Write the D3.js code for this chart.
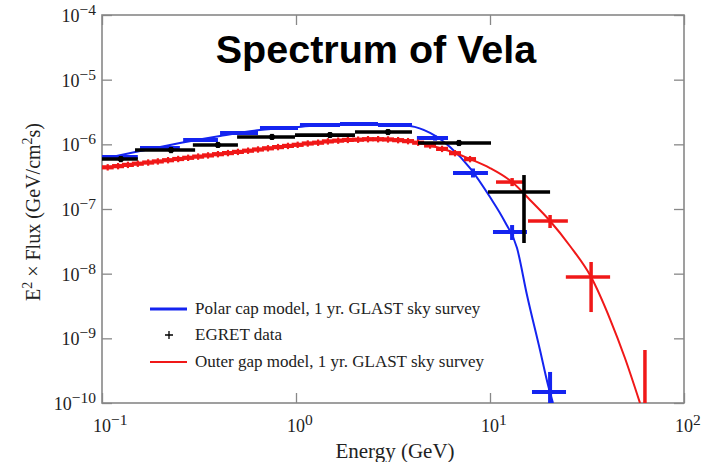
<!DOCTYPE html>
<html>
<head>
<meta charset="utf-8">
<script src="https://cdn.jsdelivr.net/npm/d3@7"></script>
<style>
  body { margin: 0; background: #fff; }
  svg { display: block; }
</style>
</head>
<body>
<svg id="chart" width="708" height="462"></svg>
<script>
// ---- axis ticks ----
const xTickValues = [0.1, 1, 10, 100];
const xTickExponents = ["-1", "0", "1", "2"];
const yTickValues = [1e-4, 1e-5, 1e-6, 1e-7, 1e-8, 1e-9, 1e-10];
const yTickExponents = ["-4", "-5", "-6", "-7", "-8", "-9", "-10"];

// ---- polar cap model curve: [energy GeV, E^2 x flux] ----
const polarCapCurve = [
  [0.1, 5.93e-7], [0.157, 7.88e-7], [0.252, 1.05e-6], [0.406, 1.35e-6],
  [0.652, 1.67e-6], [1.0, 1.85e-6], [1.69, 2.06e-6], [2.71, 2.06e-6],
  [3.87, 1.92e-6], [4.91, 1.50e-6], [6.22, 9.09e-7], [7.89, 4.30e-7],
  [10.0, 1.53e-7], [11.95, 6.29e-8], [13.78, 2.49e-8], [15.51, 4.68e-9],
  [18.1, 6.60e-10], [19.91, 1.90e-10], [21.12, 1.0e-10]
];

// ---- polar cap simulated survey bins ----
const polarCapBins = [
  { e: 0.124, eLo: 0.1,   eHi: 0.153, f: 6.37e-7, fLo: 6.37e-7, fHi: 6.37e-7 },
  { e: 0.199, eLo: 0.157, eHi: 0.252, f: 8.77e-7, fLo: 8.77e-7, fHi: 8.77e-7 },
  { e: 0.322, eLo: 0.262, eHi: 0.396, f: 1.17e-6, fLo: 1.17e-6, fHi: 1.17e-6 },
  { e: 0.508, eLo: 0.406, eHi: 0.637, f: 1.50e-6, fLo: 1.50e-6, fHi: 1.50e-6 },
  { e: 0.817, eLo: 0.652, eHi: 1.024, f: 1.79e-6, fLo: 1.79e-6, fHi: 1.79e-6 },
  { e: 1.33,  eLo: 1.048, eHi: 1.686, f: 1.99e-6, fLo: 1.99e-6, fHi: 1.99e-6 },
  { e: 2.11,  eLo: 1.686, eHi: 2.646, f: 2.06e-6, fLo: 2.06e-6, fHi: 2.06e-6 },
  { e: 3.24,  eLo: 2.646, eHi: 3.962, f: 1.99e-6, fLo: 1.99e-6, fHi: 1.99e-6 },
  { e: 5.21,  eLo: 4.20,  eHi: 6.075, f: 1.25e-6, fLo: 1.14e-6, fHi: 1.37e-6 },
  { e: 8.17,  eLo: 6.447, eHi: 9.76,  f: 3.60e-7, fLo: 3.07e-7, fHi: 4.23e-7 },
  { e: 13.0,  eLo: 10.36, eHi: 15.51, f: 4.41e-8, fLo: 3.32e-8, fHi: 5.65e-8 },
  { e: 20.4,  eLo: 16.46, eHi: 24.65, f: 1.48e-10, fLo: 8.0e-11, fHi: 3.02e-10 }
];

// ---- outer gap model curve ----
const outerGapCurve = [
  [0.1, 4.30e-7], [0.177, 5.27e-7], [0.32, 6.50e-7], [0.579, 8.03e-7],
  [1.0, 9.76e-7], [1.497, 1.11e-6], [2.138, 1.18e-6], [3.052, 1.19e-6],
  [3.869, 1.12e-6], [4.906, 9.59e-7], [6.601, 7.34e-7], [7.886, 5.93e-7],
  [10.0, 4.30e-7], [13.0, 2.61e-7], [16.08, 1.38e-7], [20.4, 6.52e-8],
  [25.85, 2.68e-8], [33.2, 8.88e-9], [41.56, 1.99e-9], [49.6, 4.96e-10],
  [59.3, 1.0e-10]
];

// ---- outer gap simulated survey: fine bins (small crosses) ----
const outerGapPoints = [
  [0.107, 4.41e-7], [0.121, 4.60e-7], [0.136, 4.81e-7], [0.153, 5.02e-7],
  [0.173, 5.23e-7], [0.194, 5.44e-7], [0.219, 5.68e-7], [0.247, 5.93e-7],
  [0.278, 6.19e-7], [0.313, 6.46e-7], [0.352, 6.74e-7], [0.396, 7.04e-7],
  [0.446, 7.32e-7], [0.502, 7.64e-7], [0.566, 7.97e-7], [0.637, 8.32e-7],
  [0.717, 8.68e-7], [0.808, 9.06e-7], [0.909, 9.45e-7], [1.02, 9.83e-7],
  [1.15, 1.03e-6], [1.30, 1.06e-6], [1.46, 1.11e-6], [1.65, 1.14e-6],
  [1.85, 1.17e-6], [2.09, 1.18e-6], [2.35, 1.20e-6], [2.65, 1.20e-6],
  [2.98, 1.19e-6], [3.36, 1.16e-6], [3.78, 1.12e-6], [4.26, 1.06e-6],
  [4.91, 9.6e-7], [5.66, 8.5e-7], [6.60, 7.3e-7], [7.89, 5.9e-7]
];

// ---- outer gap simulated survey: wide high-energy bins ----
const outerGapBins = [
  { e: 13.0, eLo: 10.74, eHi: 15.15, f: 2.61e-7, fLo: 2.26e-7, fHi: 3.01e-7 },
  { e: 20.4, eLo: 15.7,  eHi: 25.2,  f: 6.52e-8, fLo: 5.08e-8, fHi: 8.07e-8 },
  { e: 33.2, eLo: 24.6,  eHi: 41.6,  f: 8.88e-9, fLo: 2.55e-9, fHi: 1.515e-8 },
  { e: 62.9, eLo: 62.9,  eHi: 62.9,  f: 1.0e-10, fLo: 5.0e-11, fHi: 6.6e-10 }
];

// ---- EGRET measurements ----
const egretData = [
  { e: 0.125, eLo: 0.098, eHi: 0.153, f: 5.93e-7, fLo: 5.3e-7,  fHi: 6.6e-7 },
  { e: 0.227, eLo: 0.148, eHi: 0.302, f: 8.17e-7, fLo: 7.3e-7,  fHi: 9.1e-7 },
  { e: 0.396, eLo: 0.294, eHi: 0.502, f: 9.76e-7, fLo: 8.8e-7,  fHi: 1.09e-6 },
  { e: 0.752, eLo: 0.497, eHi: 0.988, f: 1.30e-6, fLo: 1.17e-6, fHi: 1.45e-6 },
  { e: 1.497, eLo: 0.988, eHi: 2.014, f: 1.39e-6, fLo: 1.25e-6, fHi: 1.55e-6 },
  { e: 2.98,  eLo: 2.014, eHi: 3.962, f: 1.55e-6, fLo: 1.39e-6, fHi: 1.72e-6 },
  { e: 6.92,  eLo: 4.255, eHi: 10.12, f: 1.05e-6, fLo: 9.4e-7,  fHi: 1.17e-6 },
  { e: 14.97, eLo: 9.76,  eHi: 20.4,  f: 1.83e-7, fLo: 2.98e-8, fHi: 3.35e-7 }
];

const legendItems = [
  { label: "Polar cap model, 1 yr. GLAST sky survey", kind: "line", color: "#1424f0", width: 3 },
  { label: "EGRET data", kind: "plus", color: "#000", width: 1.3 },
  { label: "Outer gap model, 1 yr. GLAST sky survey", kind: "line", color: "#f01818", width: 2.2 }
];

// ---- layout & styles ----
const plot = { left: 102, right: 684, top: 15, bottom: 403 };
const BLUE = "#1424f0", RED = "#f01818", AXIS = "#888";
const SERIF = "'Liberation Serif', 'Times New Roman', serif";

const svg = d3.select("#chart");

const x = d3.scaleLog().domain([0.1, 100]).range([plot.left, plot.right]);
const y = d3.scaleLog().domain([1e-10, 1e-4]).range([plot.bottom, plot.top]);

svg.append("defs").append("clipPath").attr("id", "plotClip")
  .append("rect")
  .attr("x", plot.left).attr("y", plot.top)
  .attr("width", plot.right - plot.left).attr("height", plot.bottom - plot.top);

// ---- axes (ticks point inward on all four sides) ----
function styleAxis(g) {
  g.select(".domain").remove();
  g.selectAll(".tick line").attr("stroke", AXIS).attr("stroke-width", 1.3);
  g.selectAll(".tick text").remove();
}
svg.append("g").attr("transform", `translate(${plot.left},0)`)
  .call(d3.axisLeft(y).tickValues(yTickValues).tickSizeInner(-10).tickSizeOuter(0)).call(styleAxis);
svg.append("g").attr("transform", `translate(${plot.right},0)`)
  .call(d3.axisRight(y).tickValues(yTickValues).tickSizeInner(-10).tickSizeOuter(0)).call(styleAxis);
svg.append("g").attr("transform", `translate(0,${plot.bottom})`)
  .call(d3.axisBottom(x).tickValues(xTickValues).tickSizeInner(-10).tickSizeOuter(0)).call(styleAxis);
svg.append("g").attr("transform", `translate(0,${plot.top})`)
  .call(d3.axisTop(x).tickValues(xTickValues).tickSizeInner(-10).tickSizeOuter(0)).call(styleAxis);

svg.append("rect")
  .attr("x", plot.left).attr("y", plot.top)
  .attr("width", plot.right - plot.left).attr("height", plot.bottom - plot.top)
  .attr("fill", "none").attr("stroke", AXIS).attr("stroke-width", 1.6);

// ---- tick labels: 10 with a superscript exponent ----
const yLab = svg.append("g").attr("font-family", SERIF).attr("fill", "#222");
yTickValues.forEach((v, i) => {
  const t = yLab.append("text")
    .attr("x", plot.left - 6).attr("y", y(v) + 7)
    .attr("text-anchor", "end");
  t.append("tspan").attr("font-size", 18).text("10");
  t.append("tspan").attr("font-size", 15.5).attr("dy", -7).text(yTickExponents[i].replace("-", "\u2212"));
});
const xLab = svg.append("g").attr("font-family", SERIF).attr("fill", "#222");
xTickValues.forEach((v, i) => {
  const t = xLab.append("text")
    .attr("x", x(v) - 9).attr("y", 432)
    .attr("text-anchor", "start");
  t.append("tspan").attr("font-size", 18).text("10");
  t.append("tspan").attr("font-size", 15.5).attr("dy", -7).text(xTickExponents[i].replace("-", "\u2212"));
});

// ---- axis titles ----
svg.append("text")
  .attr("x", 395).attr("y", 458)
  .attr("text-anchor", "middle")
  .attr("font-family", SERIF).attr("font-size", 21).attr("fill", "#222")
  .text("Energy (GeV)");

const yTitle = svg.append("text")
  .attr("transform", "translate(40,212) rotate(-90)")
  .attr("text-anchor", "middle")
  .attr("font-family", SERIF).attr("font-size", 20).attr("fill", "#222");
yTitle.append("tspan").text("E");
yTitle.append("tspan").attr("font-size", 14).attr("dy", -8).text("2");
yTitle.append("tspan").attr("dy", 8).text(" \u00d7 Flux (GeV/cm");
yTitle.append("tspan").attr("font-size", 14).attr("dy", -8).text("2");
yTitle.append("tspan").attr("dy", 8).text("s)");

// ---- title ----
svg.append("text")
  .attr("x", 376).attr("y", 63)
  .attr("text-anchor", "middle")
  .attr("font-family", "'Liberation Sans', Arial, sans-serif")
  .attr("font-weight", "bold").attr("font-size", 39.5).attr("fill", "#000")
  .text("Spectrum of Vela");

// ---- data layer ----
const data = svg.append("g").attr("clip-path", "url(#plotClip)");
const line = d3.line().x(d => x(d[0])).y(d => y(d[1])).curve(d3.curveMonotoneX);

function drawBins(g, bins, color, w) {
  g.selectAll(null).data(bins).join("line")
    .attr("x1", d => x(d.eLo)).attr("x2", d => x(d.eHi))
    .attr("y1", d => y(d.f)).attr("y2", d => y(d.f))
    .attr("stroke", color).attr("stroke-width", w);
  g.selectAll(null).data(bins.filter(d => d.fLo !== d.fHi)).join("line")
    .attr("x1", d => x(d.e)).attr("x2", d => x(d.e))
    .attr("y1", d => y(d.fLo)).attr("y2", d => y(d.fHi))
    .attr("stroke", color).attr("stroke-width", w);
}

// polar cap model
const blueG = data.append("g");
blueG.append("path").datum(polarCapCurve).attr("d", line)
  .attr("fill", "none").attr("stroke", BLUE).attr("stroke-width", 2);
drawBins(blueG, polarCapBins, BLUE, 4);

// outer gap model
const redG = data.append("g");
redG.append("path").datum(outerGapCurve).attr("d", line)
  .attr("fill", "none").attr("stroke", RED).attr("stroke-width", 2);
redG.selectAll(null).data(outerGapPoints).join("path")
  .attr("d", d => {
    const cx = x(d[0]), cy = y(d[1]);
    return `M${cx - 6},${cy}H${cx + 6}`;
  })
  .attr("stroke", RED).attr("stroke-width", 4.2).attr("fill", "none");
redG.selectAll(null).data(outerGapPoints).join("path")
  .attr("d", d => {
    const cx = x(d[0]), cy = y(d[1]);
    return `M${cx},${cy - 3.2}V${cy + 3.2}`;
  })
  .attr("stroke", RED).attr("stroke-width", 2.2).attr("fill", "none");
drawBins(redG, outerGapBins, RED, 3.5);

// EGRET
const egG = data.append("g");
drawBins(egG, egretData, "#000", 3.6);
egG.selectAll(null).data(egretData.slice(0, 7)).join("circle")
  .attr("cx", d => x(d.e)).attr("cy", d => y(d.f)).attr("r", 3)
  .attr("fill", "#000");

// ---- legend ----
const leg = svg.append("g").attr("font-family", SERIF).attr("font-size", 17).attr("fill", "#222");
const legRows = [309, 335, 362];
legendItems.forEach((item, i) => {
  const ly = legRows[i];
  if (item.kind === "line") {
    leg.append("line").attr("x1", 150).attr("x2", 187).attr("y1", ly).attr("y2", ly)
      .attr("stroke", item.color).attr("stroke-width", item.width);
  } else {
    leg.append("path").attr("d", `M${165},${ly}H${173}M${169},${ly - 4}V${ly + 4}`)
      .attr("stroke", item.color).attr("stroke-width", item.width);
  }
  leg.append("text").attr("x", 195).attr("y", ly + 5).text(item.label);
});
</script>
</body>
</html>
